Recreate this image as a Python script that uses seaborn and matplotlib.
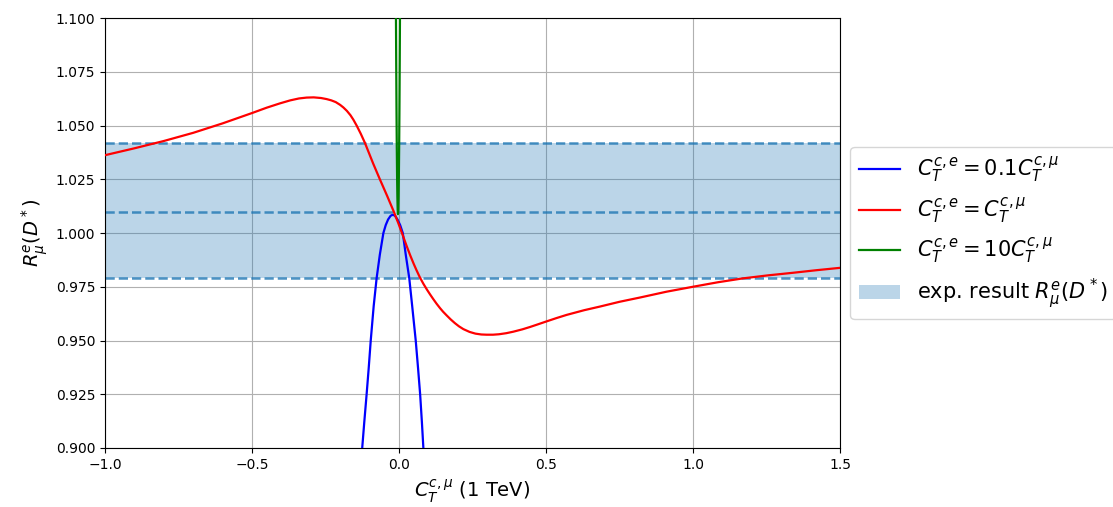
import numpy as np
import seaborn as sns
import matplotlib
matplotlib.use("Agg")
import matplotlib.pyplot as plt

# Curves
blue_x = [-0.125, -0.118, -0.110, -0.103, -0.096, -0.086, -0.076, -0.065, -0.053,
          -0.045, -0.037, -0.029, -0.025, -0.021, -0.017, -0.013, -0.005, 0.004,
          0.013, 0.023, 0.035, 0.045, 0.057, 0.065, 0.072, 0.078, 0.083]
blue_y = [0.900, 0.912, 0.925, 0.937, 0.950, 0.966, 0.979, 0.990, 1.000,
          1.0037, 1.0063, 1.0079, 1.0083, 1.0084, 1.0083, 1.0079, 1.0063, 1.0037,
          1.000, 0.990, 0.979, 0.966, 0.950, 0.937, 0.925, 0.912, 0.900]

red_x = [-1.000, -0.900, -0.800, -0.700, -0.600, -0.500, -0.450, -0.405, -0.370,
         -0.340, -0.314, -0.290, -0.265, -0.246, -0.230, -0.215, -0.200, -0.189,
         -0.177, -0.165, -0.155, -0.144, -0.130, -0.116, -0.102, -0.088, -0.065,
         -0.040, -0.019, -0.002, 0.012, 0.026, 0.038, 0.050, 0.060, 0.071, 0.083,
         0.095, 0.106, 0.117, 0.128, 0.140, 0.150, 0.162, 0.176, 0.190, 0.204,
         0.219, 0.240, 0.260, 0.280, 0.298, 0.320, 0.340, 0.365, 0.389, 0.420,
         0.446, 0.470, 0.500, 0.535, 0.570, 0.630, 0.684, 0.750, 0.820, 0.910,
         1.000, 1.085, 1.170, 1.255, 1.340, 1.420, 1.500]
red_y = [1.0362, 1.0394, 1.0428, 1.0466, 1.0510, 1.0558, 1.0583, 1.0603, 1.0617,
         1.0626, 1.0630, 1.0631, 1.0628, 1.0623, 1.0617, 1.0609, 1.0596, 1.0584,
         1.0568, 1.0548, 1.0527, 1.0500, 1.0462, 1.0420, 1.0372, 1.0324, 1.0250,
         1.0172, 1.0104, 1.0045, 0.9993, 0.9940, 0.9897, 0.9857, 0.9826, 0.9794,
         0.9764, 0.9737, 0.9714, 0.9692, 0.9671, 0.9650, 0.9634, 0.9617, 0.9598,
         0.9581, 0.9566, 0.9553, 0.9540, 0.9532, 0.9528, 0.9527, 0.9527, 0.9529,
         0.9534, 0.9541, 0.9552, 0.9563, 0.9574, 0.9588, 0.9604, 0.9619, 0.9641,
         0.9658, 0.9680, 0.9700, 0.9727, 0.9750, 0.9771, 0.9789, 0.9803, 0.9815,
         0.9827, 0.9838]

green_x = [-0.0106, -0.0102, -0.0094, -0.0084, -0.0074, -0.0064, -0.0054, -0.0044,
           -0.0034, -0.0024, -0.0014, -0.0004, 0.0006, 0.0016, 0.0026, 0.0034,
           0.0038]
green_y = [1.111, 1.100, 1.080, 1.058, 1.040, 1.0265, 1.0167, 1.0108,
           1.0088, 1.0108, 1.0167, 1.0265, 1.040, 1.058, 1.080, 1.100,
           1.111]

band_lo, band_mid, band_hi = 0.979, 1.010, 1.042

labels = [r"$C_T^{c,e} = 0.1C_T^{c,\mu}$",
          r"$C_T^{c,e} = C_T^{c,\mu}$",
          r"$C_T^{c,e} = 10C_T^{c,\mu}$",
          r"exp. result $R^e_\mu(D^*)$"]

fig = plt.figure(figsize=(11.13, 5.07), dpi=100)
ax = fig.add_axes([0.0943, 0.1164, 0.6604, 0.848])

ax.axhspan(band_lo, band_hi, color="C0", alpha=0.3, lw=0, label=labels[3], zorder=1)
for v in (band_lo, band_mid, band_hi):
    ax.axhline(v, color="C0", ls="--", lw=1.8, alpha=0.8, zorder=2)

sns.lineplot(x=blue_x, y=blue_y, color="b", lw=1.6, ax=ax, label=labels[0], zorder=3)
sns.lineplot(x=red_x, y=red_y, color="r", lw=1.6, ax=ax, label=labels[1], zorder=3)
sns.lineplot(x=green_x, y=green_y, color="g", lw=1.6, ax=ax, label=labels[2], zorder=3)

ax.set_xlim(-1.0, 1.5)
ax.set_ylim(0.9, 1.1)
ax.set_yticks(np.arange(0.9, 1.1001, 0.025))
ax.yaxis.set_major_formatter(matplotlib.ticker.FormatStrFormatter("%.3f"))
ax.grid(True, color="#b0b0b0", lw=0.8, zorder=0)
ax.set_axisbelow(True)
ax.tick_params(labelsize=10)
ax.set_xlabel(r"$C_T^{c,\mu}$ (1 TeV)", fontsize=14)
ax.set_ylabel(r"$R^e_\mu(D^*)$", fontsize=14)

handles, _ = ax.get_legend_handles_labels()
order = [1, 2, 3, 0]
ax.legend([handles[i] for i in order], labels, loc="center left",
          bbox_to_anchor=(1.0, 0.5), fontsize=15)

fig.savefig("out.png", dpi=100)
